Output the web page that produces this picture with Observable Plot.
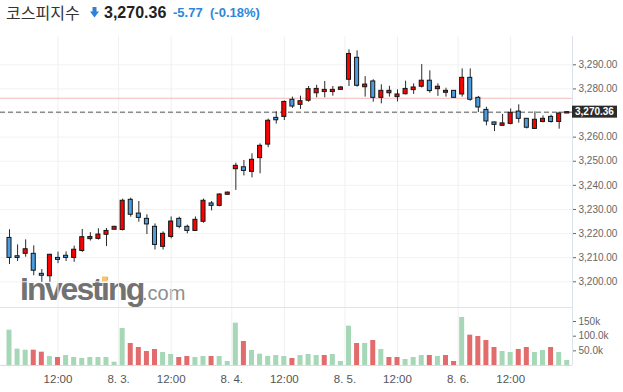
<!DOCTYPE html>
<html><head><meta charset="utf-8">
<script src="https://cdn.jsdelivr.net/npm/d3@7"></script>
<script src="https://cdn.jsdelivr.net/npm/@observablehq/plot@0.6"></script>
<style>
body{margin:0;width:623px;height:392px;position:relative;overflow:hidden;background:#fff;font-family:"Liberation Sans",Arial,sans-serif}
.h{position:absolute;top:0;line-height:25px;white-space:nowrap}
#main{position:absolute;left:0;top:30px;z-index:2}
#vol{position:absolute;left:0;top:307px;z-index:2}
#wm{position:absolute;left:0;top:0;z-index:1}
</style></head><body>
<div class="h" style="left:6px;font-family:'Noto Sans CJK KR';font-size:16px;color:#333">코스피지수</div>
<svg class="h" style="left:90px;top:7px" width="9" height="11" viewBox="0 0 9 11"><rect x="2.5" y="0" width="4" height="5" fill="#2d82d6"/><path d="M0 4.5 L9 4.5 L4.5 10.5 Z" fill="#2d82d6"/></svg>
<div class="h" style="left:104px;font-weight:bold;font-size:16px;color:#222">3,270.36</div>
<div class="h" style="left:173px;font-size:13px;font-weight:bold;color:#2d86dc">-5.77</div>
<div class="h" style="left:210px;font-size:13px;font-weight:bold;color:#2d86dc">(-0.18%)</div>
<svg id="wm" width="623" height="392">
<text x="20" y="300" font-family="Liberation Sans" font-weight="bold" font-size="32" letter-spacing="-1.9" fill="#727272">Investing</text>
<text x="142" y="300" font-family="Liberation Sans" font-size="20" fill="#8d8d8d">.com</text>
<rect x="102" y="276.5" width="5.5" height="5.5" fill="#f7c46c"/>
</svg>
<div id="main"></div>
<div id="vol"></div>
<script>
const open = [3218.2,3210.6,3211.6,3211.6,3203.3,3202.3,3209.9,3210.8,3209.9,3212.8,3217.7,3217.8,3219.5,3221.6,
 3221.5,3234.0,3228.3,3226.1,3222.8,3214.5,3218.6,3226.1,3222.8,3221.1,3224.9,3232.5,3231.5,3236.1,
 3246.7,3247.5,3245.6,3251.3,3256.9,3268.0,3268.4,3275.5,3273.4,3275.1,3278.2,3278.7,3278.7,3279.6,
 3283.8,3292.9,3280.7,3283.1,3276.3,3278.2,3276.6,3277.8,3279.5,3280.9,3283.4,3279.9,3278.4,3279.2,
 3277.7,3284.6,3276.3,3271.3,3266.1,3264.7,3265.5,3270.6,3267.6,3263.4,3266.3,3268.4,3266.3,3269.8];
const high = [3221.6,3215.3,3217.4,3214.9,3205.1,3211.4,3212.3,3212.4,3214.8,3221.7,3220.4,3222.0,3222.1,3223.0,
 3234.3,3234.7,3233.3,3227.8,3224.0,3220.7,3226.9,3226.8,3223.5,3226.9,3234.3,3233.3,3236.5,3237.2,
 3249.2,3250.3,3253.1,3257.2,3267.5,3270.5,3275.0,3276.6,3277.0,3281.0,3281.5,3283.1,3281.0,3281.0,
 3296.2,3295.8,3285.1,3283.8,3281.7,3281.1,3279.6,3283.2,3282.1,3290.1,3287.5,3282.1,3280.3,3279.3,
 3288.3,3288.3,3276.9,3272.4,3266.2,3269.4,3271.7,3273.4,3267.7,3270.5,3268.8,3269.1,3270.4,3270.6];
const low = [3207.2,3208.4,3210.2,3202.5,3199.8,3199.8,3207.5,3208.4,3208.1,3212.2,3216.9,3217.3,3214.6,3221.4,
 3221.1,3226.8,3224.7,3219.6,3213.2,3213.2,3217.8,3222.0,3219.9,3220.9,3224.3,3229.4,3231.1,3235.9,
 3237.9,3243.9,3243.1,3244.8,3255.6,3265.4,3266.9,3271.9,3271.5,3274.5,3276.3,3276.3,3277.0,3279.4,
 3281.0,3280.7,3276.6,3274.5,3273.8,3276.6,3274.6,3277.5,3277.7,3280.4,3278.2,3276.9,3276.6,3276.2,
 3276.6,3274.9,3270.2,3264.7,3262.3,3264.6,3265.1,3265.8,3263.4,3263.2,3265.9,3265.8,3263.3,3269.8];
const close = [3209.9,3209.9,3213.5,3204.6,3202.5,3211.2,3209.1,3209.9,3213.3,3218.5,3218.6,3219.6,3221.1,3222.8,
 3233.6,3227.8,3226.5,3223.8,3215.3,3219.9,3225.0,3222.8,3221.1,3225.7,3233.6,3231.5,3236.2,3237.0,
 3248.1,3246.0,3250.6,3256.4,3266.8,3267.0,3274.6,3272.7,3274.9,3279.9,3280.0,3279.6,3279.6,3280.6,
 3294.5,3281.3,3281.8,3276.3,3279.2,3279.2,3277.7,3280.0,3280.6,3283.4,3279.1,3280.9,3279.2,3276.3,
 3284.6,3275.5,3272.3,3266.5,3265.1,3265.7,3270.1,3267.6,3263.9,3267.2,3267.6,3266.3,3269.8,3270.36];
const volumeK = [120.6,55.7,52.3,52.3,45.5,30.7,27.3,34.1,27.3,23.9,27.3,27.3,27.3,11.4,
 126.3,75.1,61.4,47.8,54.6,44.4,37.5,27.3,30.7,27.3,30.7,30.7,30.7,13.7,
 144.5,81.9,51.2,38.7,30.7,34.1,30.7,23.9,34.1,37.5,34.1,34.1,37.5,13.7,
 134.2,75.1,75.1,85.3,54.6,27.3,27.3,20.5,27.3,34.1,34.1,30.7,34.1,13.7,
 163.8,103.5,99.0,85.3,61.4,47.8,44.4,54.6,61.4,44.4,51.2,61.4,44.4,17.1];
const volumeUp = [1,1,1,0,0,1,0,1,1,1,1,1,1,1,
 1,0,0,0,0,1,1,0,0,1,1,0,1,1,
 1,0,1,1,1,1,1,0,1,1,1,0,1,1,
 1,0,1,0,1,0,0,1,1,1,0,1,0,0,
 1,0,0,0,0,1,1,0,0,1,1,0,1,1];
const timeTickPos = [6,13.5,20,27.5,34,41.5,48,55.5,62];
const timeTickLabels = ["12:00","8. 3.","12:00","8. 4.","12:00","8. 5.","12:00","8. 6.","12:00"];
const priceTicks = [3200,3210,3220,3230,3240,3250,3260,3270,3280,3290];
const volTicks = [50000,100000,150000];
const volTickLabels = ["50.0k","100.0k","150k"];
const lastPrice = 3270.36;
const prevClose = 3276.13;

const rows = open.map((o,i)=>({i, open:o, high:high[i], low:low[i], close:close[i],
  vol: volumeK[i]*1000, up: volumeUp[i]===1}));
const xDomain = [-1.1135, 69.65];
const yDomain = [3189.34, 3301.74];
const RED = "#ff0000", BLUE = "#4b9de0", GREEN = "#a6d8b8", VRED = "#e26c6c";
const fmt = d3.format(",.2f");
// the last-price box hides the tick label beneath it, as in the reference
const axisPriceTicks = priceTicks.filter(t => Math.abs(t - lastPrice) > 3);

const main = Plot.plot({
  width: 623, height: 277, marginTop: 6, marginBottom: 0, marginLeft: 0, marginRight: 51,
  style: {background: "transparent", fontFamily: "Liberation Sans, Arial, sans-serif", fontSize: "10px", color: "#666"},
  x: {domain: xDomain, axis: null},
  y: {domain: yDomain, axis: "right", ticks: axisPriceTicks, tickFormat: fmt, tickSize: 3, tickPadding: 3, label: null},
  marks: [
    Plot.ruleY(priceTicks, {stroke: "#f2f2f2"}),
    Plot.ruleX(timeTickPos, {stroke: "#f0f0f0"}),
    Plot.ruleY([prevClose], {stroke: "#f6b9b9"}),
    Plot.ruleY([lastPrice], {stroke: "#555", strokeDasharray: "5,3"}),
    Plot.ruleX([xDomain[1]], {stroke: "#dde2e8"}),
    Plot.ruleX(rows, {x: "i", y1: "low", y2: "high", stroke: "#2a2a2a", strokeWidth: 1}),
    Plot.rect(rows, {x1: d=>d.i-0.25, x2: d=>d.i+0.25,
      y1: d=>Math.min(d.open,d.close), y2: d=>Math.max(d.open,d.close),
      fill: d=>d.close>d.open?RED:BLUE, stroke: "#151515", strokeWidth: 1})
  ]
});
document.getElementById("main").appendChild(main);

const vol = Plot.plot({
  width: 623, height: 85, marginTop: 0, marginBottom: 27, marginLeft: 0, marginRight: 51,
  style: {background: "transparent", fontFamily: "Liberation Sans, Arial, sans-serif", fontSize: "10px", color: "#666"},
  x: {domain: xDomain, axis: "bottom", ticks: timeTickPos, tickFormat: d=>timeTickLabels[timeTickPos.indexOf(d)], tickSize: 0, tickPadding: 9, label: null},
  y: {domain: [0, 197900], axis: "right", ticks: volTicks, tickFormat: d=>volTickLabels[volTicks.indexOf(d)], tickSize: 3, tickPadding: 3, label: null},
  marks: [
    Plot.ruleX(timeTickPos, {stroke: "#f0f0f0"}),
    Plot.ruleY([197900], {stroke: "#e3e3e3"}),
    Plot.rectY(rows, {x1: d=>d.i-0.31, x2: d=>d.i+0.31, y: "vol", fill: d=>d.up?GREEN:VRED}),
    Plot.rect(rows, {x1: d=>d.i-0.31, x2: d=>d.i+0.31, y1: "vol", y2: "vol", stroke: d=>d.up?"#cdebd7":"#f2a3a3", strokeWidth: 1}),
    Plot.ruleY([0], {stroke: "#dcdcdc"}),
    Plot.ruleX([xDomain[1]], {stroke: "#dde2e8"})
  ]
});
document.getElementById("vol").appendChild(vol);

try {
  d3.select(vol).selectAll('g[aria-label^="x-axis"] text').style("font-size", "11.5px").attr("fill", "#555");
} catch (e) {}

// last price box on the right axis, positioned through Plot's own scales
(function () {
  const sy = main.scale("y"), sx = main.scale("x");
  const lin = (s, v) => s.range[0] + (v - s.domain[0]) / (s.domain[1] - s.domain[0]) * (s.range[1] - s.range[0]);
  const yv = lin(sy, lastPrice);
  const xv = lin(sx, xDomain[1]);
  const g = d3.select(main).append("g").attr("text-anchor", "start");
  g.append("rect").attr("x", xv).attr("y", yv - 6).attr("width", 45).attr("height", 12).attr("fill", "#2b2b2b");
  g.append("text").attr("x", xv + 3).attr("y", yv).attr("dy", "0.35em").attr("text-anchor", "start")
    .attr("fill", "#fff").attr("font-weight", "bold").attr("font-size", 10)
    .attr("font-family", "Liberation Sans, Arial, sans-serif").text(fmt(lastPrice));
})();
</script>
</body></html>
